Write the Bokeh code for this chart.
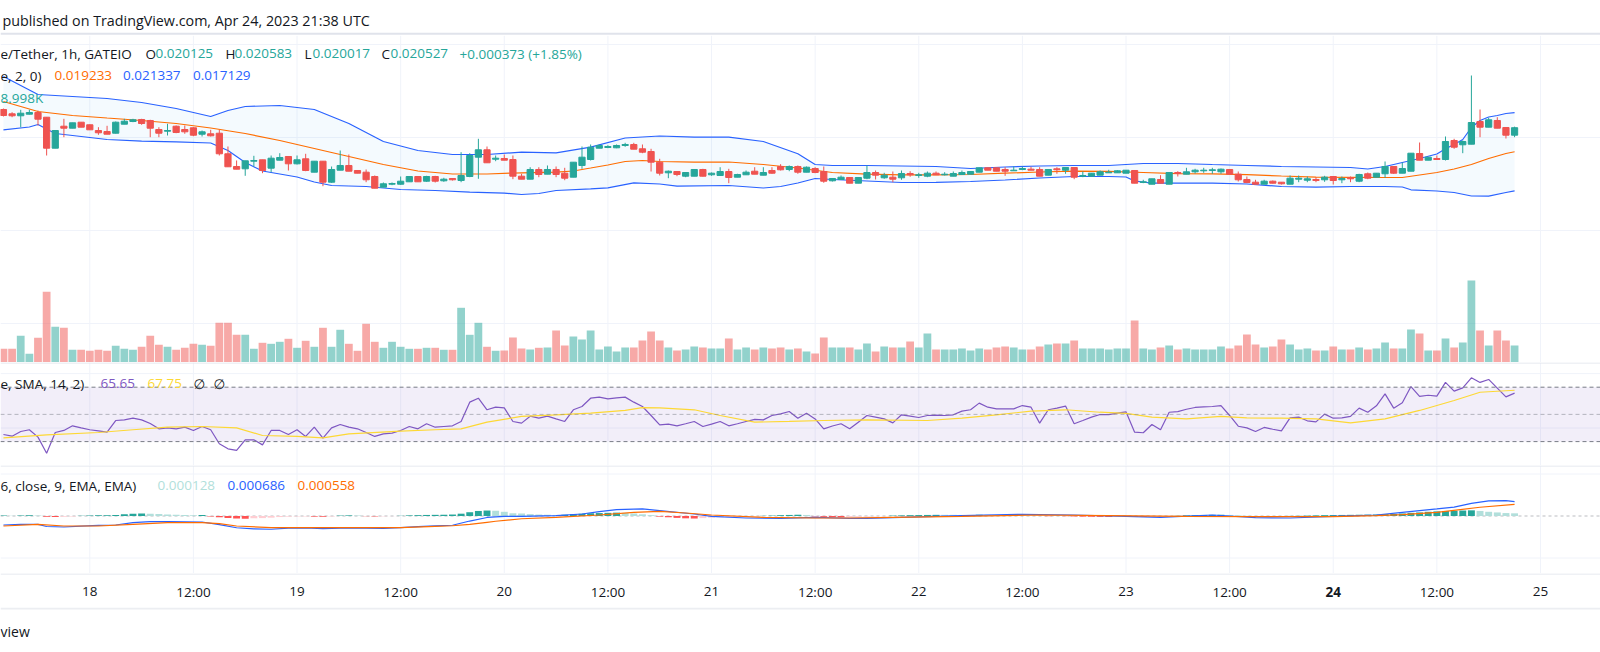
import numpy as np
from bokeh.plotting import figure
from bokeh.layouts import column
from bokeh.models import Range1d, Span, Label, ColumnDataSource, BoxAnnotation
from bokeh.core.properties import value
from bokeh.embed import file_html
from bokeh.resources import INLINE

# ---------------------------------------------------------------- data
# hourly bars, time in hours since 18 Apr 2023 00:00 (17 Apr 14:00 ... 24 Apr 21:00)
hours = list(range(-10, 166))

open_ = [0.021505,0.021274,0.021167,0.021253,0.021344,0.021091,0.019425,0.020607,0.020500,0.020823,
0.020683,0.020376,0.020323,0.020231,0.020715,0.020860,0.020968,0.020914,0.020430,0.020339,
0.020607,0.020430,0.020521,0.020177,0.020199,0.020231,0.019124,0.018441,0.018317,0.018726,
0.018801,0.018350,0.018780,0.018979,0.018586,0.018855,0.018135,0.018726,0.017597,0.018242,
0.018495,0.018226,0.018135,0.017903,0.017328,0.017489,0.017489,0.017618,0.017903,0.017651,
0.017903,0.017672,0.017796,0.017688,0.017903,0.018941,0.019339,0.018833,0.018871,0.018817,
0.017920,0.017758,0.018280,0.018027,0.018280,0.018081,0.017866,0.018495,0.018817,0.019425,
0.019462,0.019446,0.019570,0.019624,0.019393,0.019247,0.018672,0.018102,0.018172,0.017920,
0.017920,0.018280,0.017995,0.017957,0.018172,0.017866,0.017995,0.018188,0.017973,0.018226,
0.018441,0.018280,0.018441,0.018135,0.018333,0.018172,0.017672,0.017742,0.017850,0.017543,
0.017812,0.018118,0.017834,0.017866,0.017834,0.018065,0.017957,0.017920,0.018081,0.017995,
0.017920,0.018011,0.018027,0.018135,0.018371,0.018371,0.018280,0.018210,0.018280,0.018296,
0.018280,0.017973,0.018317,0.018242,0.018387,0.017920,0.017920,0.017973,0.018102,0.018102,
0.018081,0.018226,0.017581,0.017489,0.017742,0.017489,0.018118,0.018027,0.018156,0.018210,
0.018226,0.018156,0.018280,0.018027,0.017742,0.017597,0.017489,0.017651,0.017597,0.017489,
0.017758,0.017704,0.017742,0.017726,0.017903,0.017726,0.017834,0.017651,0.018049,0.017866,
0.018049,0.018441,0.018081,0.018188,0.019140,0.018780,0.018871,0.018817,0.019839,0.019608,
0.019640,0.020860,0.020554,0.020914,0.020538,0.020125]

high = [0.021559,0.021360,0.021489,0.021489,0.021452,0.021091,0.020376,0.021005,0.020790,0.020823,
0.020699,0.020554,0.020629,0.020860,0.021005,0.021005,0.021005,0.020952,0.020554,0.020737,
0.020645,0.020645,0.020554,0.020376,0.020414,0.020414,0.019516,0.018764,0.018747,0.019016,
0.018801,0.019032,0.019156,0.018979,0.019032,0.019124,0.018726,0.018726,0.018441,0.019301,
0.019086,0.018226,0.018280,0.017957,0.017581,0.017581,0.017903,0.017903,0.017903,0.017941,
0.017941,0.017834,0.017812,0.019210,0.019156,0.019930,0.019516,0.019032,0.019086,0.019032,
0.018049,0.018403,0.018403,0.018495,0.018441,0.018371,0.018672,0.019516,0.019624,0.019624,
0.019586,0.019624,0.019715,0.019715,0.019624,0.019393,0.018855,0.018226,0.018172,0.018118,
0.018280,0.018317,0.018118,0.018403,0.018317,0.018049,0.018226,0.018403,0.018403,0.018403,
0.018565,0.018495,0.018495,0.018441,0.018403,0.018441,0.017812,0.017957,0.017866,0.017866,
0.018495,0.018226,0.018102,0.018172,0.018226,0.018188,0.018102,0.018172,0.018172,0.018135,
0.018172,0.018226,0.018172,0.018371,0.018387,0.018371,0.018403,0.018441,0.018441,0.018425,
0.018403,0.018280,0.018403,0.018387,0.018387,0.018172,0.018081,0.018226,0.018264,0.018242,
0.018242,0.018226,0.017726,0.017780,0.017973,0.018118,0.018188,0.018371,0.018317,0.018371,
0.018371,0.018333,0.018280,0.018172,0.017903,0.017726,0.017726,0.017688,0.017597,0.017957,
0.017957,0.017903,0.017866,0.017941,0.017903,0.017903,0.017903,0.018049,0.018118,0.018081,
0.018710,0.018441,0.018656,0.019156,0.019731,0.018941,0.019032,0.020054,0.019930,0.019839,
0.023333,0.021505,0.021059,0.021091,0.020538,0.020583]

low = [0.021129,0.021091,0.020554,0.021236,0.020645,0.019032,0.019425,0.020016,0.020500,0.020554,
0.020414,0.020145,0.020177,0.020215,0.020715,0.020823,0.020683,0.020016,0.020016,0.020108,
0.020231,0.020199,0.020070,0.020054,0.020054,0.019032,0.018425,0.018296,0.017941,0.018441,
0.018081,0.018135,0.018780,0.018226,0.018548,0.018188,0.018135,0.017382,0.017565,0.018242,
0.018188,0.018081,0.017597,0.017274,0.017328,0.017436,0.017457,0.017618,0.017618,0.017618,
0.017581,0.017618,0.017688,0.017597,0.017866,0.017780,0.018640,0.018726,0.018780,0.017758,
0.017758,0.017758,0.017866,0.018027,0.017866,0.017704,0.017866,0.018317,0.018764,0.019425,
0.019425,0.019425,0.019500,0.019371,0.019156,0.018172,0.017957,0.017812,0.017920,0.017866,
0.017920,0.017903,0.017941,0.017941,0.017543,0.017866,0.017995,0.018027,0.017973,0.018049,
0.018226,0.018188,0.018049,0.018135,0.018081,0.017565,0.017635,0.017742,0.017543,0.017543,
0.017758,0.017742,0.017780,0.017597,0.017726,0.017887,0.017834,0.017866,0.017995,0.017957,
0.017920,0.018011,0.018027,0.018135,0.018242,0.018188,0.017941,0.018210,0.018242,0.018242,
0.017920,0.017973,0.018049,0.018049,0.017758,0.017866,0.017920,0.017973,0.018102,0.018102,
0.018081,0.017543,0.017543,0.017489,0.017543,0.017489,0.017903,0.018027,0.018065,0.018102,
0.018049,0.018049,0.018027,0.017635,0.017543,0.017489,0.017489,0.017527,0.017473,0.017489,
0.017597,0.017597,0.017597,0.017618,0.017473,0.017543,0.017597,0.017597,0.017758,0.017866,
0.017834,0.018049,0.018081,0.018188,0.018780,0.018780,0.018817,0.018764,0.019393,0.019156,
0.019640,0.020016,0.020554,0.020500,0.019946,0.020017]

close = [0.021183,0.021167,0.021306,0.021344,0.020984,0.019425,0.020376,0.020500,0.020790,0.020554,
0.020414,0.020253,0.020177,0.020823,0.020876,0.020952,0.020753,0.020500,0.020231,0.020376,
0.020269,0.020306,0.020124,0.020306,0.020091,0.019124,0.018425,0.018296,0.018747,0.018764,
0.018226,0.018887,0.018925,0.018586,0.018801,0.018226,0.018726,0.017597,0.018280,0.018495,
0.018188,0.018081,0.017726,0.017274,0.017511,0.017527,0.017651,0.017903,0.017618,0.017903,
0.017651,0.017758,0.017726,0.017957,0.019032,0.019339,0.018640,0.018887,0.018780,0.017920,
0.017758,0.018280,0.018011,0.018280,0.018011,0.017812,0.018672,0.018941,0.019479,0.019570,
0.019516,0.019570,0.019624,0.019371,0.019210,0.018672,0.018081,0.018188,0.018011,0.018118,
0.018280,0.017920,0.018081,0.018172,0.017850,0.018011,0.018135,0.018027,0.018118,0.018081,
0.018264,0.018441,0.018135,0.018403,0.018118,0.017651,0.017796,0.017866,0.017543,0.017850,
0.018118,0.017973,0.017973,0.017758,0.018065,0.017995,0.017995,0.018081,0.017995,0.018027,
0.018065,0.018118,0.018172,0.018371,0.018242,0.018188,0.018188,0.018242,0.018333,0.018242,
0.017920,0.018280,0.018264,0.018387,0.017866,0.017957,0.018081,0.018156,0.018135,0.018210,
0.018242,0.017543,0.017618,0.017780,0.017543,0.018118,0.018065,0.018156,0.018242,0.018242,
0.018264,0.018296,0.018027,0.017726,0.017581,0.017489,0.017651,0.017543,0.017511,0.017812,
0.017812,0.017780,0.017688,0.017866,0.017688,0.017796,0.017780,0.018011,0.017812,0.018081,
0.018441,0.018081,0.018333,0.019156,0.018780,0.018941,0.018817,0.019785,0.019479,0.019785,
0.020806,0.020554,0.020952,0.020500,0.020124,0.020527]

# volume, thousands
volume_k = [7.25,7.25,14.12,4.60,13.07,37.40,18.89,18.36,6.72,6.72,
6.19,6.72,6.19,8.83,7.25,6.72,8.31,14.12,9.36,8.31,
6.72,7.78,9.89,9.36,8.83,21.00,21.00,14.65,14.65,7.25,
10.42,9.89,10.95,12.54,7.78,11.48,8.31,18.36,8.31,17.30,
9.89,6.19,20.47,10.95,7.78,10.95,8.31,7.25,7.25,7.78,
7.78,6.72,6.72,28.94,14.65,21.00,8.31,6.19,6.35,13.23,
7.41,6.88,7.78,7.94,16.93,8.99,13.75,12.17,16.93,6.88,
8.46,5.82,7.94,7.94,11.64,16.40,11.64,7.94,6.35,6.88,
8.46,7.94,7.41,7.41,12.70,6.88,7.94,6.88,7.94,7.41,
7.94,6.88,7.41,5.82,4.76,13.23,7.94,7.94,7.94,6.88,
10.05,5.82,8.46,7.94,7.94,11.11,7.94,15.34,6.88,6.88,
6.88,7.41,6.35,7.41,6.88,7.94,8.46,7.94,6.88,6.88,
8.46,9.52,10.05,10.05,11.64,7.41,7.41,7.41,6.88,7.41,
7.41,22.22,7.41,6.88,7.94,8.99,6.88,7.41,6.88,6.88,
6.88,8.46,7.41,8.99,14.81,9.52,7.94,8.46,12.17,9.52,
6.88,7.41,6.35,6.35,8.46,6.88,6.88,7.94,6.88,7.41,
10.58,7.41,7.41,17.46,15.34,6.35,6.35,12.70,7.94,10.58,
43.38,16.93,8.99,16.93,11.64,8.998]

# Bollinger Bands (20, 2), read at selected bars (bar index into hours)
bb_upper_bar = [0,4,8,12,16,20,24,26,28,32,36,40,44,48,52,56,60,64,68,72,76,80,84,88,92,94,96,100,104,108,
                112,116,120,124,128,132,136,140,144,148,152,156,158,160,162,164,166,167,168,169,170,171,172,173,174,175]
bb_upper = [0.023279,0.022312,0.022204,0.022097,0.021882,0.021559,0.021129,0.021452,0.021667,0.021720,
0.021505,0.020753,0.019785,0.019301,0.019086,0.019086,0.019210,0.019177,0.019479,0.019973,
0.020081,0.020016,0.020016,0.019785,0.019124,0.018548,0.018495,0.018495,0.018468,0.018441,
0.018333,0.018414,0.018468,0.018495,0.018495,0.018602,0.018602,0.018548,0.018495,0.018441,
0.018414,0.018387,0.018307,0.018441,0.018656,0.018871,0.019113,0.019393,0.019624,0.019892,
0.020538,0.020914,0.021102,0.021183,0.021290,0.021337]
bb_basis_bar = [0,4,8,12,16,20,24,28,32,36,40,44,48,52,56,60,64,66,68,70,72,74,76,80,84,88,92,96,100,104,
                108,112,116,120,124,128,132,136,140,144,148,152,156,160,162,164,166,168,170,172,174,175]
bb_basis = [0.021935,0.021398,0.021183,0.021048,0.020914,0.020753,0.020511,0.020215,0.019839,0.019409,
0.018979,0.018548,0.018199,0.018038,0.018038,0.018102,0.018135,0.018199,0.018360,0.018522,
0.018710,0.018764,0.018710,0.018672,0.018683,0.018548,0.018360,0.018118,0.018027,0.017995,
0.017995,0.018011,0.018081,0.018145,0.018188,0.018183,0.018118,0.018054,0.018049,0.018000,
0.017930,0.017871,0.017860,0.017850,0.017850,0.017984,0.018118,0.018307,0.018548,0.018871,
0.019140,0.019233]
bb_lower_bar = [0,3,4,6,8,12,16,20,24,26,28,30,32,34,36,38,42,46,50,54,58,60,62,64,68,70,73,76,78,84,
                88,90,92,94,96,100,104,108,112,116,120,124,128,130,131,133,136,140,144,148,152,156,160,162,163,166,168,170,172,174,175]
bb_lower = [0.020414,0.020564,0.020699,0.020215,0.020108,0.019892,0.019801,0.019769,0.019704,0.019301,
0.018656,0.018199,0.018038,0.017876,0.017608,0.017420,0.017366,0.017204,0.017151,0.017059,
0.017006,0.016936,0.016989,0.017151,0.017242,0.017296,0.017565,0.017500,0.017382,0.017420,
0.017285,0.017366,0.017554,0.017796,0.017742,0.017661,0.017581,0.017592,0.017635,0.017715,
0.017823,0.017903,0.017903,0.017876,0.017661,0.017543,0.017543,0.017543,0.017500,0.017366,
0.017328,0.017366,0.017366,0.017339,0.017188,0.017124,0.017043,0.016855,0.016844,0.017043,
0.017129]

# RSI (14) for every bar, and its SMA read at selected bars
rsi = [35.2,34.0,37.4,38.7,33.3,21.5,36.7,38.2,41.6,40.1,
38.7,37.9,36.9,45.5,46.0,47.2,46.0,43.3,39.4,40.1,
39.4,40.6,38.2,41.1,38.7,28.4,24.7,23.5,31.3,31.3,
27.6,38.2,38.2,35.2,38.7,33.8,40.6,32.5,40.1,42.6,
40.6,39.4,36.7,33.8,35.7,36.2,38.2,41.1,39.4,43.1,
40.6,41.1,41.6,44.8,59.0,61.9,53.4,55.3,54.8,44.8,
43.6,48.7,47.2,48.7,46.7,44.8,53.4,55.8,61.9,62.7,
61.4,62.2,62.7,59.0,55.8,49.2,42.3,42.8,41.6,43.1,
44.8,41.1,42.8,44.8,41.6,43.1,44.8,46.3,46.0,49.2,
50.4,52.1,47.2,50.9,46.7,39.4,41.5,43.1,39.4,44.3,
49.2,48.0,46.7,43.8,49.7,48.7,47.7,49.2,49.4,49.2,
49.7,52.4,53.4,58.3,55.3,54.1,54.1,54.1,56.5,55.3,
43.6,53.4,54.6,56.1,43.1,45.5,48.0,49.9,49.9,50.9,
51.9,36.9,36.5,42.6,38.7,51.6,52.0,53.8,55.1,55.6,
55.8,56.5,49.2,41.3,40.1,37.4,40.4,39.1,37.9,47.5,
48.0,45.3,44.5,50.2,47.2,47.5,48.5,54.6,51.6,56.3,
65.1,54.6,58.5,70.5,63.2,64.1,63.4,73.5,67.1,69.5,
76.9,73.5,75.7,69.3,62.9,65.65]
rsi_ma_bar = [0,5,11,15,19,23,27,30,34,37,40,46,50,53,56,60,64,68,72,74,76,80,83,87,91,95,100,107,111,115,
              119,123,127,130,133,137,141,144,148,152,156,160,164,168,171,175]
rsi_ma = [32.8,35.0,36.7,38.7,40.6,41.1,40.1,34.5,33.8,32.8,35.7,37.7,38.7,39.4,44.3,48.5,49.7,50.9,52.9,55.0,
          54.8,53.4,49.2,44.3,44.8,45.5,46.0,45.5,47.2,49.7,52.4,53.4,51.6,50.7,48.0,46.7,48.5,47.5,47.2,46.7,
          43.8,46.7,52.9,60.2,66.3,67.75]

# MACD (12, 26, close, 9)
macd_bar = [0,2,4,5,7,9,11,13,15,17,19,23,25,27,29,31,33,35,37,40,44,46,48,50,52,54,56,58,60,64,
            67,69,71,74,76,80,82,86,90,94,98,100,104,111,118,124,130,134,140,145,149,154,159,162,166,168,170,172,174,175]
macd_line = [-0.000428,-0.000397,-0.000400,-0.000500,-0.000524,-0.000480,-0.000444,-0.000428,-0.000317,-0.000270,
-0.000270,-0.000286,-0.000410,-0.000560,-0.000610,-0.000630,-0.000580,-0.000565,-0.000600,-0.000570,
-0.000587,-0.000555,-0.000508,-0.000470,-0.000440,-0.000240,-0.000070,-0.000020,-0.000016,0.000016,
0.000096,0.000208,0.000304,0.000336,0.000256,0.000096,-0.000016,-0.000096,-0.000112,-0.000064,
-0.000112,-0.000112,-0.000064,0.000016,0.000080,0.000048,-0.000016,-0.000064,0.000048,-0.000080,
-0.000096,-0.000016,0.000048,0.000176,0.000336,0.000420,0.000600,0.000720,0.000730,0.000686]
signal_bar = [0,4,7,11,15,19,23,25,27,31,35,42,46,50,52,54,56,57,60,64,
              69,73,76,79,82,88,94,98,103,111,120,128,137,145,154,159,162,166,171,175]
signal_line = [-0.000476,-0.000397,-0.000476,-0.000476,-0.000397,-0.000317,-0.000317,-0.000365,-0.000476,-0.000555,
-0.000555,-0.000555,-0.000555,-0.000492,-0.000464,-0.000400,-0.000300,-0.000250,-0.000130,-0.000064,
0.000048,0.000176,0.000224,0.000144,0.000048,-0.000064,-0.000096,-0.000096,-0.000064,-0.000016,
0.000048,0.000016,-0.000016,-0.000032,-0.000032,0.000016,0.000064,0.000176,0.000416,0.000558]
hist = [0.000020,0.000015,0.000025,0.000040,0.000020,-0.000040,-0.000050,-0.000030,-0.000020,0.000010,
0.000025,0.000030,0.000040,0.000050,0.000080,0.000110,0.000120,0.000110,0.000090,0.000070,
0.000060,0.000050,0.000040,0.000045,-0.000020,-0.000060,-0.000090,-0.000120,-0.000130,-0.000110,
-0.000100,-0.000080,-0.000050,-0.000030,-0.000020,-0.000020,-0.000030,-0.000035,-0.000020,0.000020,
0.000030,0.000025,-0.000010,-0.000020,-0.000015,-0.000005,0.000010,0.000030,0.000040,0.000050,
0.000055,0.000060,0.000070,0.000110,0.000180,0.000240,0.000260,0.000250,0.000200,0.000130,
0.000120,0.000090,0.000070,0.000060,0.000050,0.000060,0.000090,0.000110,0.000130,0.000140,
0.000150,0.000160,0.000150,0.000120,0.000080,0.000040,-0.000030,-0.000060,-0.000090,-0.000110,
-0.000120,-0.000100,-0.000080,-0.000060,-0.000040,-0.000030,-0.000020,-0.000010,0.000010,0.000020,
0.000040,0.000050,0.000060,0.000050,-0.000020,-0.000040,-0.000050,-0.000060,-0.000050,-0.000040,
-0.000030,-0.000020,-0.000010,0.000020,0.000030,0.000040,0.000045,0.000050,0.000055,0.000055,
0.000055,0.000050,0.000050,0.000060,0.000055,0.000045,0.000040,0.000030,0.000020,0.000010,
0.000005,-0.000010,0.000005,-0.000010,-0.000020,-0.000030,-0.000035,-0.000040,-0.000045,-0.000040,
-0.000035,-0.000040,-0.000045,-0.000040,-0.000030,-0.000020,0.000010,0.000030,0.000040,0.000050,
0.000055,0.000060,0.000050,0.000030,0.000010,-0.000010,-0.000020,-0.000020,-0.000010,0.000005,
0.000010,0.000020,0.000030,0.000040,0.000045,0.000050,0.000055,0.000060,0.000065,0.000070,
0.000090,0.000100,0.000120,0.000150,0.000170,0.000200,0.000220,0.000240,0.000250,0.000260,
0.000270,0.000240,0.000200,0.000170,0.000140,0.000128]

# time axis: every 12 hours
grid_hours = [-12, 0, 12, 24, 36, 48, 60, 72, 84, 96, 108, 120, 132, 144, 156, 168]
tick_hours = [0, 12, 24, 36, 48, 60, 72, 84, 96, 108, 120, 132, 144, 156, 168]
tick_labels = ["18", "12:00", "19", "12:00", "20", "12:00", "21", "12:00", "22",
               "12:00", "23", "12:00", "24", "12:00", "25"]
tick_bold = [False] * 12 + [True, False, False]

# ---------------------------------------------------------------- styling / layout
W = 1600
PX_PER_H = 8.635
X18 = 89.3          # page x of 18 Apr 00:00
UP, DOWN = "#26a69a", "#ef5350"
DARK = "#131722"
GRID = "#f0f3fa"
SEP = "#e0e3eb"
FONT = "Open Sans"
LSIZE = "13.5px"

def hx(px):                     # page x -> hours
    return (px - X18) / PX_PER_H

def py(px):                     # page y -> price in main pane
    return 0.02 + (137.0 - px) / 18600.0

def ry(px):                     # page y -> RSI value
    return 70.0 - (px - 386.7) / 1.36

def my(px):                     # page y -> MACD value
    return (515.5 - px) / 21000.0

xr = Range1d(hx(0), hx(W))


def make_fig(h, yr, x_range=xr):
    f = figure(width=W, height=h, x_range=x_range, y_range=yr, output_backend="svg",
               toolbar_location=None, x_axis_location=None, y_axis_location=None,
               min_border=0, tools="")
    f.outline_line_color = None
    f.grid.visible = False
    f.background_fill_color = "white"
    f.border_fill_color = "white"
    return f


def label(fig, x, y, text, color, size=LSIZE, font=FONT, style="normal", align="left"):
    fig.add_layout(Label(x=x, y=y, text=text, text_color=color, text_font=font,
                         text_font_size=size, text_font_style=style,
                         text_align=align, text_baseline="middle"))


def hspan(fig, y, color=GRID, width=1, dash="solid", alpha=1.0, level="underlay"):
    fig.add_layout(Span(location=y, dimension="width", line_color=color, line_width=width,
                        line_dash=dash, line_alpha=alpha, level=level))


def vgrid(fig):
    for t in grid_hours:
        fig.add_layout(Span(location=t, dimension="height", line_color=GRID, line_width=1,
                            level="underlay"))

t_arr = np.array(hours, dtype=float)
o = np.array(open_); c = np.array(close)
up = c >= o
bar_col = [UP if u else DOWN for u in up]

# ---------------------------------------------------------------- header
header = make_fig(35, Range1d(35, 0), x_range=Range1d(0, W))
hspan(header, 33.3, color=SEP, width=2, level="overlay")
label(header, 2, 20, "published on TradingView.com, Apr 24, 2023 21:38 UTC", DARK, size="14.3px")

# ---------------------------------------------------------------- main pane
main = make_fig(327, Range1d(py(362), py(35)))
vgrid(main)
for lvl in [0.010, 0.015, 0.020, 0.025]:
    hspan(main, lvl)
main.extra_y_ranges = {"vol": Range1d(0, (362 - 35) * 0.529)}

src = ColumnDataSource(dict(t=t_arr, o=open_, h=high, l=low, c=close,
                            top=np.maximum(o, c), bot=np.minimum(o, c),
                            col=bar_col, vol=volume_k))
main.vbar(x="t", width=0.9, top="vol", bottom=0, y_range_name="vol", source=src,
          fill_color="col", fill_alpha=0.5, line_color=None)

ub_t = [hours[i] for i in bb_upper_bar]
lb_t = [hours[i] for i in bb_lower_bar]
bs_t = [hours[i] for i in bb_basis_bar]
main.patch(ub_t + lb_t[::-1], bb_upper + bb_lower[::-1], fill_color="#2196f3",
           fill_alpha=0.05, line_color=None)
main.line(ub_t, bb_upper, line_color="#2962ff", line_width=1.2)
main.line(lb_t, bb_lower, line_color="#2962ff", line_width=1.2)
main.line(bs_t, bb_basis, line_color="#ff6d00", line_width=1.2)

main.segment(x0="t", y0="l", x1="t", y1="h", line_color="col", line_width=1, source=src)
main.vbar(x="t", width=0.72, top="top", bottom="bot", fill_color="col", line_color="col",
          line_width=1, source=src)

# legend texts
y1, y2, y3 = py(53), py(75), py(97)
for txt, px, col in [("e/Tether, 1h, GATEIO", 0, DARK), ("O", 145, DARK), ("0.020125", 155, UP),
                     ("H", 225, DARK), ("0.020583", 234, UP), ("L", 304, DARK), ("0.020017", 312, UP),
                     ("C", 381, DARK), ("0.020527", 390, UP), ("+0.000373 (+1.85%)", 459, UP)]:
    label(main, hx(px), y1, txt, col)
for txt, px, col in [("e, 2, 0)", 0, DARK), ("0.019233", 54, "#ff6d00"),
                     ("0.021337", 122.5, "#2962ff"), ("0.017129", 192.5, "#2962ff")]:
    label(main, hx(px), y2, txt, col)
label(main, hx(0), y3, "8.998K", UP)

# ---------------------------------------------------------------- RSI pane
rp = make_fig(103, Range1d(ry(465), ry(362)))
vgrid(rp)
hspan(rp, 40); hspan(rp, 80)
rp.add_layout(BoxAnnotation(bottom=30, top=70, fill_color="#7e57c2", fill_alpha=0.1,
                            line_color=None, level="underlay"))
hspan(rp, 70, color="#787b86", dash="4 3", level="glyph")
hspan(rp, 30, color="#787b86", dash="4 3", level="glyph")
hspan(rp, 50, color="#787b86", dash="4 3", alpha=0.5, level="glyph")
hspan(rp, ry(362.5), color=SEP, width=1, level="overlay")
rp.line(t_arr, rsi, line_color="#7e57c2", line_width=1.2)
rp.line([hours[i] for i in rsi_ma_bar], rsi_ma, line_color="#fdd835", line_width=1.2)
yr_l = ry(383)
for txt, px, col, fnt in [("e, SMA, 14, 2)", 0, DARK, FONT), ("65.65", 100, "#7e57c2", FONT),
                          ("67.75", 147, "#fdd835", FONT), ("\u2205", 193, DARK, "DejaVu Sans"),
                          ("\u2205", 213, DARK, "DejaVu Sans")]:
    label(rp, hx(px), yr_l, txt, col, font=fnt)

# ---------------------------------------------------------------- MACD pane
mp = make_fig(108, Range1d(my(573), my(465)))
vgrid(mp)
hspan(mp, 0.002); hspan(mp, -0.002)
hspan(mp, 0.0, color="#787b86", dash="3 3", alpha=0.5)
hspan(mp, my(465.5), color=SEP, width=1, level="overlay")
hcols = []
prev = None
for v in hist:
    if v >= 0:
        hcols.append("#26a69a" if (prev is None or v > prev) else "#b2dfdb")
    else:
        hcols.append("#ff5252" if (prev is None or v < prev) else "#ffcdd2")
    prev = v
mp.vbar(x=t_arr, width=0.8, top=hist, bottom=0, fill_color=hcols, line_color=None)
mp.line([hours[i] for i in macd_bar], macd_line, line_color="#2962ff", line_width=1.2)
mp.line([hours[i] for i in signal_bar], signal_line, line_color="#ff6d00", line_width=1.2)
ym_l = my(485)
for txt, px, col in [("6, close, 9, EMA, EMA)", 0, DARK), ("0.000128", 157, "#b2dfdb"),
                     ("0.000686", 227, "#2962ff"), ("0.000558", 297, "#ff6d00")]:
    label(mp, hx(px), ym_l, txt, col)

# ---------------------------------------------------------------- time axis
ax = make_fig(34, Range1d(607, 573))
hspan(ax, 573.5, color=SEP, width=1, level="overlay")
ax_src = ColumnDataSource(dict(x=tick_hours, y=[591] * len(tick_hours), text=tick_labels,
                               style=["bold" if b else "normal" for b in tick_bold]))
ax.text(x="x", y="y", text="text", source=ax_src, text_font=value(FONT), text_font_size="13.5px",
        text_color=DARK, text_align="center", text_baseline="middle", text_font_style="style")

# ---------------------------------------------------------------- footer
footer = make_fig(45, Range1d(652, 607), x_range=Range1d(0, W))
hspan(footer, 608, color="#eceef2", width=2, level="overlay")
label(footer, 0, 631, "view", DARK, size="14px", align="left")

layout = column(header, main, rp, mp, ax, footer, spacing=0)
open("out.html", "w").write(file_html(layout, INLINE))
